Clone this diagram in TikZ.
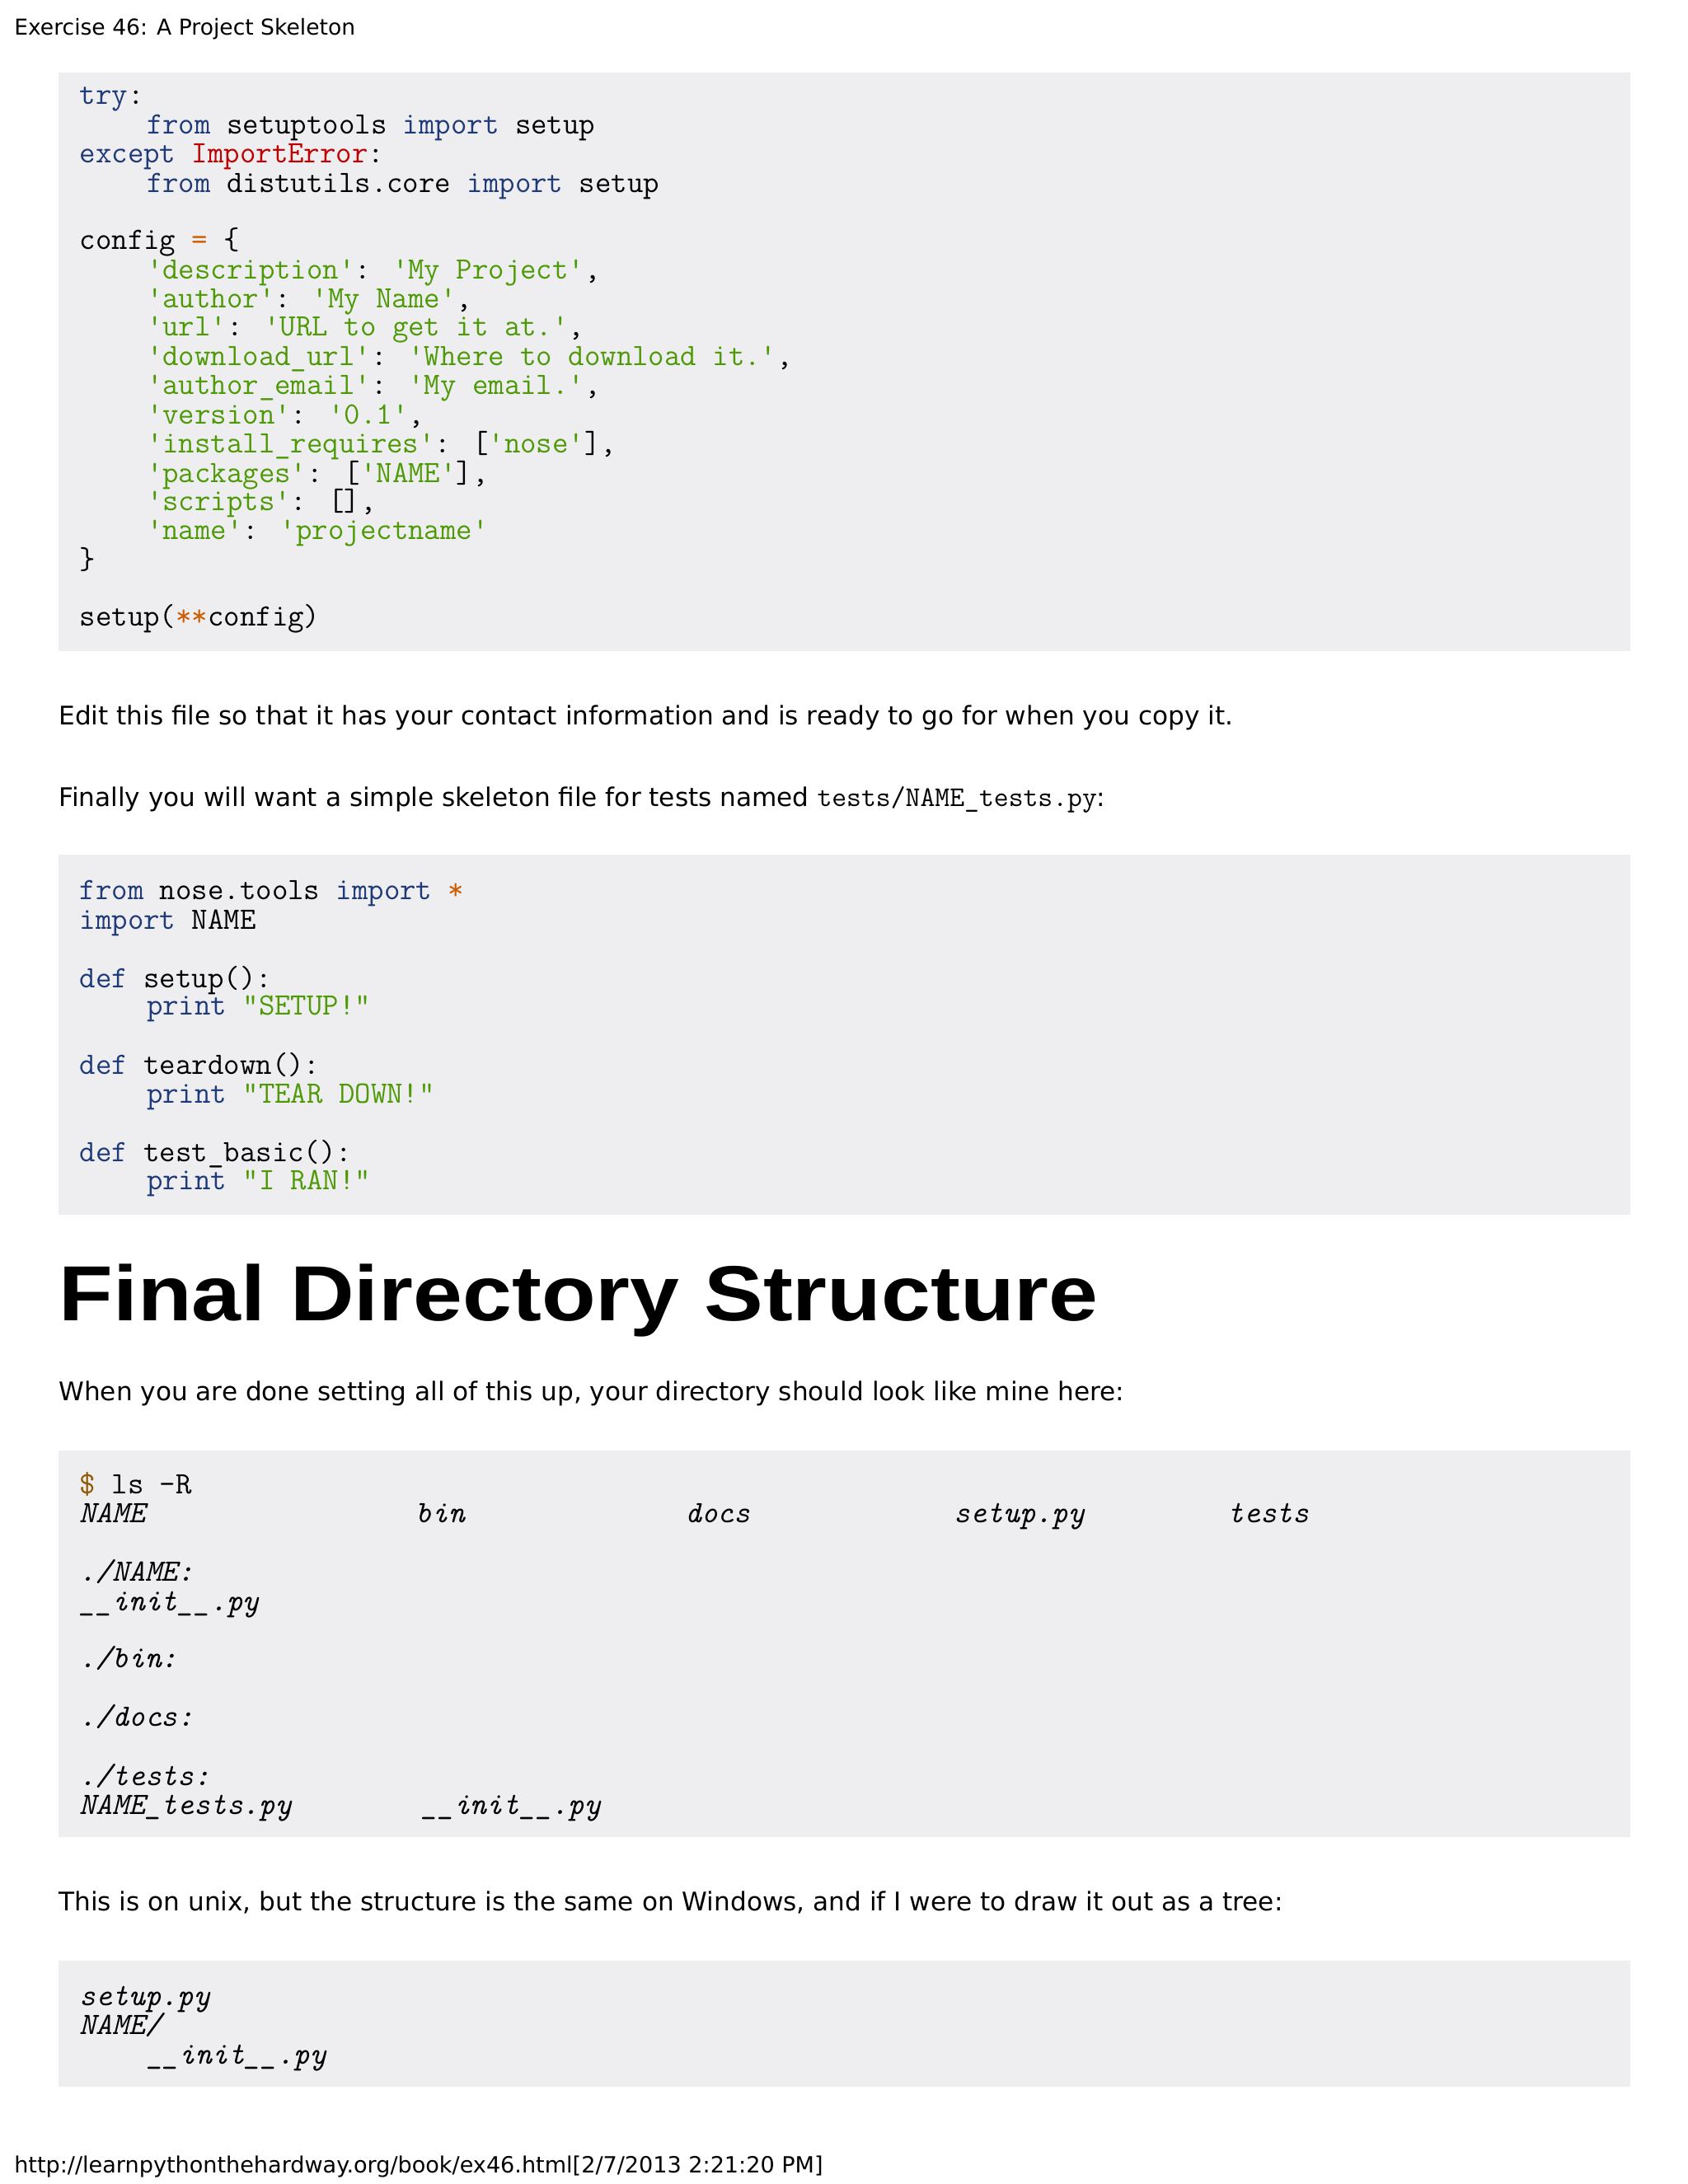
\documentclass[tikz,border=0pt]{standalone}
\usepackage{fontspec}
\setmainfont{DejaVu Sans}
\newfontfamily\mono{Latin Modern Mono}
\newfontfamily\headf{Liberation Sans}
\definecolor{bg}{HTML}{EEEDF0}
\definecolor{kwc}{HTML}{1F3A78}
\definecolor{errc}{HTML}{C00000}
\definecolor{strc}{HTML}{4E9A06}
\definecolor{opc}{HTML}{CE5C00}
\definecolor{dolc}{HTML}{8F5902}
\newcommand\kw[1]{\textcolor{kwc}{\bfseries #1}}
\newcommand\er[1]{\textcolor{errc}{\bfseries #1}}
\newcommand\str[1]{\textcolor{strc}{#1}}
\newcommand\opr[1]{\textcolor{opc}{#1}}
\newcommand\cl[3]{\node[codeline] at (#1,#2+7) {#3};}
\newcommand\il[3]{\node[codeline,font=\mono\itshape\fontsize{22.3}{22}\selectfont] at (#1,#2+7) {#3};}
\begin{document}
\begin{tikzpicture}[x=1pt,y=-1pt,
 codeline/.style={anchor=base west,inner sep=0,font=\mono\fontsize{22.3}{22}\selectfont},
 body/.style={anchor=base west,inner sep=0,font=\fontsize{18.4}{22}\selectfont},
 codebox/.style={fill=bg,draw=none}]
\fill[white] (0,0) rectangle (1210,1566);
\useasboundingbox (0,0) rectangle (1210,1566);
\node[body,font=\fontsize{15.7}{20}\selectfont] (hdr) at (10,25) {Exercise 46: A Project Skeleton};
\fill[codebox] (42,52) rectangle (1169,467);
\cl{57}{68}{\kw{try}:}
\cl{105}{89}{\kw{from} setuptools \kw{import} setup}
\cl{57}{110}{\kw{except} \er{ImportError}:}
\cl{105}{131}{\kw{from} distutils.core \kw{import} setup}
\cl{57}{172}{config \opr{=} \{}
\cl{105}{193}{\str{'description'}: \str{'My Project'},}
\cl{105}{214}{\str{'author'}: \str{'My Name'},}
\cl{105}{234}{\str{'url'}: \str{'URL to get it at.'},}
\cl{105}{255}{\str{'download\_url'}: \str{'Where to download it.'},}
\cl{105}{276}{\str{'author\_email'}: \str{'My email.'},}
\cl{105}{297}{\str{'version'}: \str{'0.1'},}
\cl{105}{318}{\str{'install\_requires'}: [\str{'nose'}],}
\cl{105}{339}{\str{'packages'}: [\str{'NAME'}],}
\cl{105}{359}{\str{'scripts'}: [],}
\cl{105}{380}{\str{'name'}: \str{'projectname'}}
\cl{57}{401}{\}}
\cl{57}{442}{setup(\opr{**}config)}
\node[body] (p1) at (42,520) {Edit this file so that it has your contact information and is ready to go for when you copy it.};
\node[body] (p2) at (42,578) {Finally you will want a simple skeleton file for tests named {\mono\fontsize{20.5}{22}\selectfont tests/NAME\_tests.py}:};
\fill[codebox] (42,613) rectangle (1169,871);
\cl{57}{638}{\kw{from} nose.tools \kw{import} \opr{*}}
\cl{57}{659}{\kw{import} NAME}
\cl{57}{701}{\kw{def} setup():}
\cl{105}{721}{\kw{print} \str{"SETUP!"}}
\cl{57}{763}{\kw{def} teardown():}
\cl{105}{784}{\kw{print} \str{"TEAR DOWN!"}}
\cl{57}{826}{\kw{def} test\_basic():}
\cl{105}{846}{\kw{print} \str{"I RAN!"}}
\node[anchor=base west,inner sep=0,xscale=1.135,font=\headf\bfseries\fontsize{56}{60}\selectfont] (h) at (42,947) {Final Directory Structure};
\node[body] (p3) at (42,1004) {When you are done setting all of this up, your directory should look like mine here:};
\fill[codebox] (42,1040) rectangle (1169,1317);
\cl{57}{1064}{\textcolor{dolc}{\$} ls -R}
\il{57}{1085}{NAME}\il{298}{1085}{bin}\il{491}{1085}{docs}\il{684}{1085}{setup.py}\il{880}{1085}{tests}
\il{57}{1127}{./NAME:}
\il{57}{1148}{\_\_init\_\_.py}
\il{57}{1189}{./bin:}
\il{57}{1231}{./docs:}
\il{57}{1273}{./tests:}
\il{57}{1294}{NAME\_tests.py}\il{302}{1294}{\_\_init\_\_.py}
\node[body] (p4) at (42,1370) {This is on unix, but the structure is the same on Windows, and if I were to draw it out as a tree:};
\fill[codebox] (42,1406) rectangle (1169,1496);
\il{57}{1431}{setup.py}
\il{57}{1452}{NAME/}
\il{105}{1473}{\_\_init\_\_.py}
\node[body,font=\fontsize{16}{20}\selectfont] (ftr) at (10,1558) {http://learnpythonthehardway.org/book/ex46.html[2/7/2013 2:21:20 PM]};
\end{tikzpicture}
\end{document}
